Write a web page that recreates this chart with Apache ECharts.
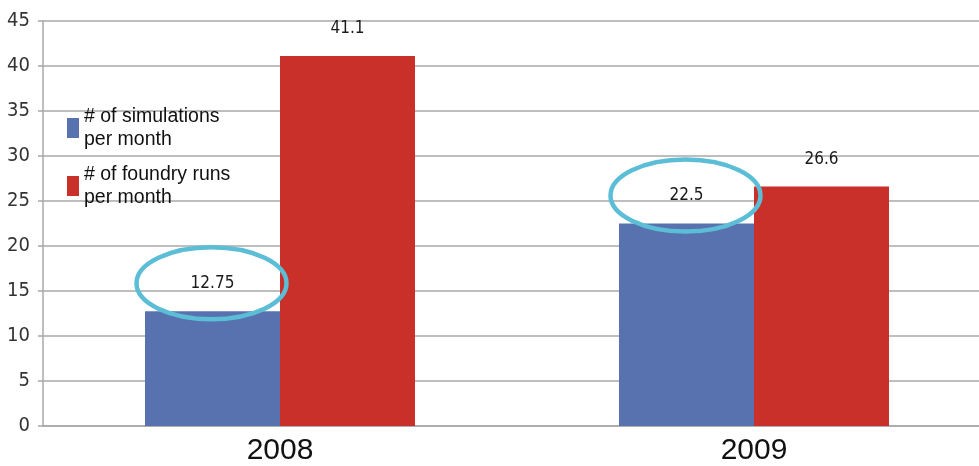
<!DOCTYPE html>
<html>
<head>
<meta charset="utf-8">
<script src="https://cdn.jsdelivr.net/npm/echarts@6/dist/echarts.min.js"></script>
<style>
html,body{margin:0;padding:0;background:#fff;}
#main{width:979px;height:466px;}
</style>
</head>
<body>
<div id="main"></div>
<script>
var categories = ['2008', '2009'];
var simulations = [12.75, 22.5];
var foundryRuns = [41.1, 26.6];
var seriesNames = ['# of simulations\nper month', '# of foundry runs\nper month'];
var yTicks = [0, 5, 10, 15, 20, 25, 30, 35, 40, 45];
var highlighted = [0, 1]; // indices of simulation values circled

var BAR_W = 135;
var NARROW = '"DejaVu Sans Condensed", "Liberation Sans Narrow", "DejaVu Sans", sans-serif';
var chart = echarts.init(document.getElementById('main'));
var labelStyle = {
  show: true, position: 'top', distance: 19,
  fontFamily: NARROW, fontSize: 17, color: '#1a1a1a',
  formatter: function (p) { return String(p.value); }
};
chart.setOption({
  animation: false,
  backgroundColor: '#ffffff',
  grid: { left: 43, top: 21, right: -12, bottom: 40, outerBoundsMode: 'none', containLabel: false },
  legend: {
    orient: 'vertical', left: 62, top: 100,
    itemWidth: 12, itemHeight: 20, itemGap: 12,
    icon: 'rect',
    textStyle: { fontFamily: 'Liberation Sans', fontSize: 19.5, lineHeight: 23, color: '#111' },
    data: seriesNames
  },
  xAxis: {
    type: 'category', data: categories,
    axisLine: { lineStyle: { color: '#a8a8a8', width: 1.5 } },
    axisTick: { show: false },
    axisLabel: { fontFamily: 'Liberation Sans', fontSize: 30, color: '#111', margin: 10 }
  },
  yAxis: {
    type: 'value', min: yTicks[0], max: yTicks[yTicks.length - 1], interval: 5,
    axisLine: { show: true, lineStyle: { color: '#a8a8a8', width: 1.5 } },
    axisTick: { show: true, length: 5, lineStyle: { color: '#a8a8a8', width: 1.5 } },
    splitLine: { lineStyle: { color: '#a8a8a8', width: 1.5 } },
    axisLabel: { fontFamily: NARROW, fontSize: 20, color: '#333', margin: 13 }
  },
  series: [
    { name: seriesNames[0], type: 'bar', data: simulations, barWidth: BAR_W, barGap: '0%',
      itemStyle: { color: '#5872b0' }, label: labelStyle },
    { name: seriesNames[1], type: 'bar', data: foundryRuns, barWidth: BAR_W, barGap: '0%',
      itemStyle: { color: '#c9302a' }, label: labelStyle }
  ]
});

var ellipses = highlighted.map(function (i) {
  var pt = chart.convertToPixel({ gridIndex: 0 }, [i, simulations[i]]);
  return {
    type: 'ellipse',
    shape: { cx: pt[0] - BAR_W / 2 - 1, cy: pt[1] - 28, rx: 75, ry: 36 },
    style: { fill: 'none', stroke: '#5bbdd6', lineWidth: 4.5 },
    z: 100
  };
});
chart.setOption({ graphic: ellipses });
</script>
</body>
</html>
